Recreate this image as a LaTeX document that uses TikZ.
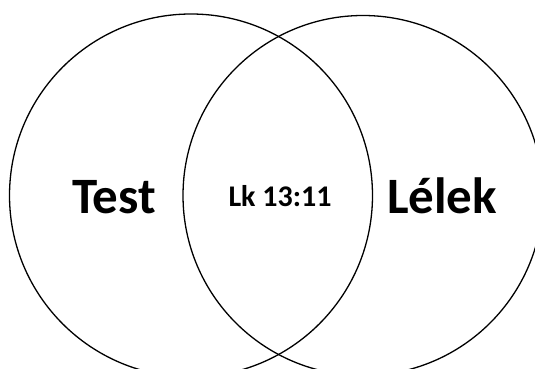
\documentclass[tikz,border=0pt]{standalone}
\usepackage{fontspec}
\setmainfont{Carlito}
\usepackage{tikz}
\usetikzlibrary{positioning}
\tikzstyle{ring} = [circle, draw=black, line width=1.3pt, inner sep=0pt]
\tikzstyle{bigword} = [font=\bfseries\fontsize{51}{51}\selectfont, anchor=base, inner sep=0pt]
\tikzstyle{smallword} = [font=\bfseries\fontsize{30}{30}\selectfont, anchor=base, inner sep=0pt]

\begin{document}
\begin{tikzpicture}[x=1pt,y=1pt]
			\useasboundingbox (0,0) rectangle (535,369);
			\clip (0,0) rectangle (535,369);
			\node (test) [ring,minimum size=363pt] at (191,173.5) {};
			\node (lelek) [ring,minimum size=360pt] at (363,173.5) {};
			%-----------------------------------------------
			\node (testlabel) [bigword] at (114,155) {Test};
			\node (common) [smallword] at (280,162) {Lk 13:11};
			\node (lelektlabel) [bigword] at (442,155) {Lélek};
			\end{tikzpicture}
\end{document}
